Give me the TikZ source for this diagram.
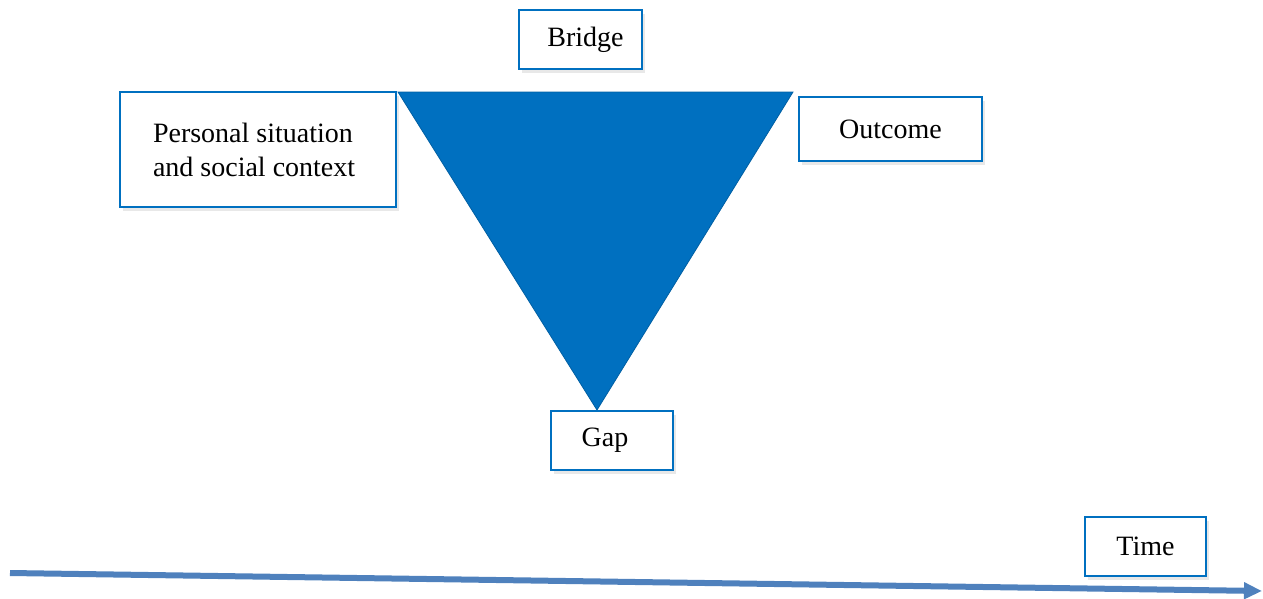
\documentclass[tikz,border=0pt]{standalone}
\usepackage{fontspec}
\setmainfont{Liberation Serif}
\usepackage{tikz}
\usetikzlibrary{
  arrows.meta,
  shadows
}
\definecolor{boxblue}{RGB}{0,112,192}
\definecolor{axisblue}{RGB}{79,129,189}
\tikzset{
  lbl/.style={
    draw=boxblue,
    line width=2pt,
    fill=white,
    font=\fontsize{28}{34}\selectfont,
    inner sep=0pt,
    drop shadow={opacity=0.18, shadow xshift=3pt, shadow yshift=-4pt}}
  }

\begin{document}
\begin{tikzpicture}[x=1pt,y=-1pt]
      \useasboundingbox (0,0) rectangle (1263,598);
      % the funnel
      \coordinate (tl) at (398,92);
      \coordinate (tr) at (793,92);
      \coordinate (tip) at (597,410);
      \fill[boxblue, draw=boxblue!85!black, line width=0.8pt] (tl) -- (tr) -- (tip) -- cycle;
      % labels
      \node[lbl, minimum width=276pt, minimum height=115pt, align=left] (sit) at (258,149.5)
        {\raisebox{9pt}{\parbox{210pt}{Personal situation\\and social context}}};
      \node[lbl, minimum width=123pt, minimum height=59pt] (bridge) at (580.5,39.5) {\hspace*{10pt}Bridge};
      \node[lbl, minimum width=183pt, minimum height=64pt] (out) at (890.5,129) {Outcome};
      \node[lbl, minimum width=122pt, minimum height=59pt] (gap) at (612,440.5) {\hspace*{-14pt}\raisebox{-5pt}{Gap}};
      \node[lbl, minimum width=121pt, minimum height=59pt] (time) at (1145.5,546.5) {\raisebox{-3pt}{Time}};
      % time axis
      \coordinate (t0) at (10,573);
      \coordinate (t1) at (1262,591);
      \draw[axisblue, line width=6pt, -{Triangle[length=18pt,width=16pt]}] (t0) -- (t1);
    \end{tikzpicture}
\end{document}
